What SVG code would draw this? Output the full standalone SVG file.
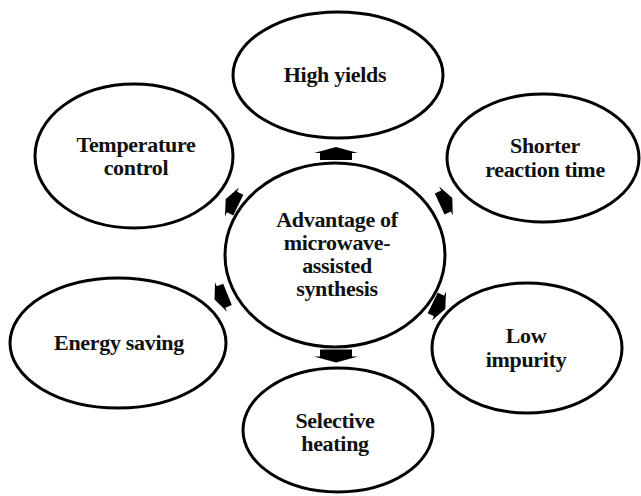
<svg xmlns="http://www.w3.org/2000/svg" width="641" height="496" viewBox="0 0 641 496">
<style>
.node ellipse{fill:#fff;stroke:#000;stroke-width:3}
.node text{font-family:"Liberation Serif","Times New Roman",serif;font-weight:bold;font-size:22px;fill:#111;text-anchor:middle;letter-spacing:-0.3px}
.arrow{fill:#000}
</style>
<defs>
<path id="bigArrow" d="M-22,-0.5 L0,-6.5 L22,-0.5 L16,-0.5 L16,6.5 L-16,6.5 L-16,-0.5 Z"/>
<path id="smallArrow" d="M-16,0 L0,-7 L16,0 L11.5,0 L11.5,7 L-11.5,7 L-11.5,0 Z"/>
</defs>
<rect width="641" height="496" fill="#fff"/>
<g id="connectors" class="arrow">
<use href="#bigArrow" transform="translate(336,153.5)"/>
<use href="#bigArrow" transform="translate(336,356) rotate(180)"/>
<use href="#smallArrow" transform="translate(232,202) rotate(-64)"/>
<use href="#smallArrow" transform="translate(221,297) rotate(248)"/>
<use href="#smallArrow" transform="translate(446,201) rotate(65)"/>
<use href="#smallArrow" transform="translate(439,306) rotate(116)"/>
</g>
<g id="center" class="node">
<ellipse cx="335" cy="255" rx="110" ry="92"/>
<text x="337" y="227">Advantage of</text>
<text x="337" y="250">microwave-</text>
<text x="337" y="273">assisted</text>
<text x="337" y="296">synthesis</text>
</g>
<g id="high-yields" class="node">
<ellipse cx="338" cy="75" rx="105" ry="63"/>
<text x="335" y="82">High yields</text>
</g>
<g id="temperature-control" class="node">
<ellipse cx="134" cy="156" rx="99" ry="72"/>
<text x="136" y="152">Temperature</text>
<text x="136" y="175">control</text>
</g>
<g id="shorter-reaction-time" class="node">
<ellipse cx="543" cy="158" rx="96" ry="64"/>
<text x="545" y="153">Shorter</text>
<text x="545" y="177">reaction time</text>
</g>
<g id="energy-saving" class="node">
<ellipse cx="118" cy="343" rx="108" ry="65"/>
<text x="119" y="350">Energy saving</text>
</g>
<g id="low-impurity" class="node">
<ellipse cx="527" cy="348" rx="95" ry="65"/>
<text x="526" y="343">Low</text>
<text x="526" y="367">impurity</text>
</g>
<g id="selective-heating" class="node">
<ellipse cx="338" cy="430" rx="95" ry="62"/>
<text x="335" y="428">Selective</text>
<text x="335" y="451">heating</text>
</g>
</svg>
